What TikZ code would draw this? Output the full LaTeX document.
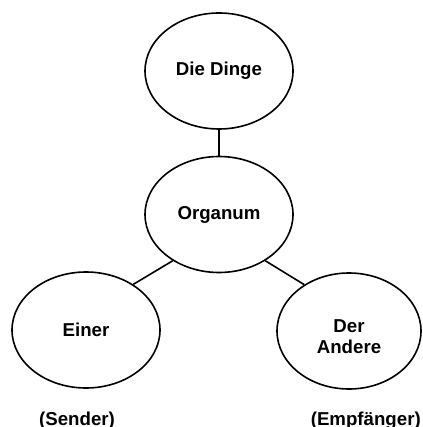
\documentclass[tikz,border=0pt]{standalone}
\usepackage{fontspec}
\setmainfont{Liberation Sans}
\usetikzlibrary{shapes.geometric}
\begin{document}
\begin{tikzpicture}[x=0.75pt,y=-0.75pt,
  blob/.style={draw, ellipse, line width=1.2pt, inner sep=0pt,
    minimum width=111pt, minimum height=87pt, align=center,
    font=\fontsize{14}{16}\selectfont\bfseries},
  tag/.style={font=\fontsize{14}{16}\selectfont\bfseries, inner sep=0pt},
  link/.style={line width=1.2pt}]
  \useasboundingbox (0,0) rectangle (422,427);
  \node[blob] (dinge)   at (219,71)    {Die Dinge};
  \node[blob] (organum) at (219,214.5) {Organum};
  \node[blob] (einer)   at (86,330)    {Einer};
  \node[blob, minimum width=108pt,
    label={[tag, align=center, yshift=-4pt]center:Der\\Andere}] (andere) at (349,331) {};
  \node[tag, anchor=base] (sender) at (77,425) {(Sender)};
  \node[tag, anchor=base east] (empf) at (421,425) {(Empfänger)};
  \draw[link] (dinge) -- (organum);
  \draw[link] (organum.225) -- (einer.44);
  \draw[link] (organum.315) -- (andere.134);
\end{tikzpicture}
\end{document}
